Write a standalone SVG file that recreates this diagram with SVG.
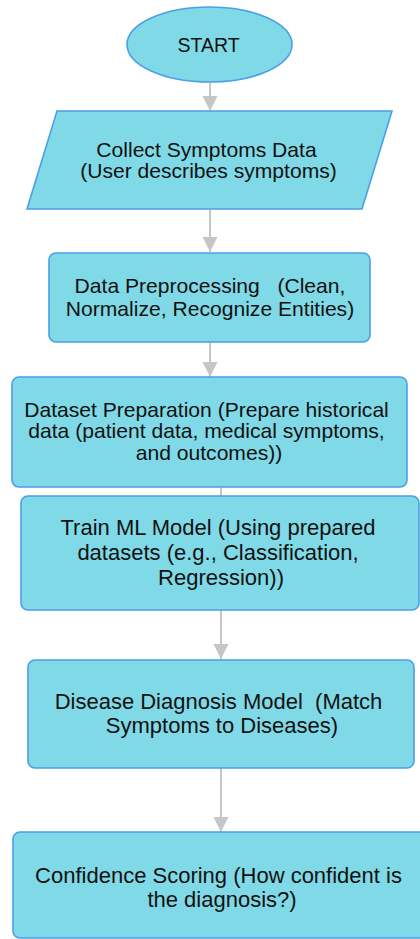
<svg xmlns="http://www.w3.org/2000/svg" width="420" height="939" viewBox="0 0 420 939">
  <defs>
    <style>
      .shape { fill: #80d9e6; stroke: #4a9fe8; stroke-width: 1.6; }
      .label { font-family: "Liberation Sans", Arial, sans-serif; fill: #111; text-anchor: middle; }
      .sm { font-size: 21.1px; }
      .lg { font-size: 22px; }
      .link { stroke: #c6c6c6; stroke-width: 2; fill: none; }
      .head { fill: #c6c6c6; }
    </style>
    <marker id="arrow" markerUnits="userSpaceOnUse" markerWidth="16" markerHeight="16" refX="15" refY="7.5" orient="auto">
      <path class="head" d="M0,0 L15,7.5 L0,15 Z"/>
    </marker>
  </defs>
  <rect width="420" height="939" fill="#ffffff"/>

  <!-- connectors -->
  <g id="connectors">
    <line class="link" x1="210" y1="82" x2="210" y2="111" marker-end="url(#arrow)"/>
    <line class="link" x1="210" y1="209" x2="210" y2="252" marker-end="url(#arrow)"/>
    <line class="link" x1="210" y1="342" x2="210" y2="377" marker-end="url(#arrow)"/>
    <line class="link" x1="221" y1="487" x2="221" y2="497" stroke-width="1.5"/>
    <line class="link" x1="221" y1="610" x2="221" y2="659" marker-end="url(#arrow)"/>
    <line class="link" x1="221" y1="768" x2="221" y2="832" marker-end="url(#arrow)"/>
  </g>

  <g id="start">
    <ellipse class="shape" cx="209.5" cy="44.5" rx="82.5" ry="37.5"/>
    <text class="label" x="208.5" y="52" font-size="19.5">START</text>
  </g>

  <g id="collect">
    <polygon class="shape" points="57,111 392,111 362,209 27,209"/>
    <text class="label sm" x="206.5" y="157">Collect Symptoms Data</text>
    <text class="label sm" x="208.5" y="178">(User describes symptoms)</text>
  </g>

  <g id="preprocess">
    <rect class="shape" x="49" y="253" width="321" height="89" rx="7"/>
    <text class="label sm" x="210" y="293" xml:space="preserve">Data Preprocessing   (Clean,</text>
    <text class="label sm" x="210" y="316">Normalize, Recognize Entities)</text>
  </g>

  <g id="dataset">
    <rect class="shape" x="12" y="377" width="395" height="110" rx="7"/>
    <text class="label sm" x="206.5" y="417">Dataset Preparation (Prepare historical</text>
    <text class="label sm" x="206.5" y="438">data (patient data, medical symptoms,</text>
    <text class="label sm" x="209" y="460">and outcomes))</text>
  </g>

  <g id="train">
    <rect class="shape" x="21" y="496" width="398" height="114" rx="7"/>
    <text class="label lg" x="218" y="535">Train ML Model (Using prepared</text>
    <text class="label lg" x="218" y="560">datasets (e.g., Classification,</text>
    <text class="label lg" x="221" y="585">Regression))</text>
  </g>

  <g id="diagnosis">
    <rect class="shape" x="28" y="660" width="386" height="108" rx="7"/>
    <text class="label lg" x="218.5" y="709" xml:space="preserve">Disease Diagnosis Model  (Match</text>
    <text class="label lg" x="222" y="733">Symptoms to Diseases)</text>
  </g>

  <g id="confidence">
    <rect class="shape" x="13" y="832" width="420" height="106" rx="7"/>
    <text class="label lg" x="218.5" y="883">Confidence Scoring (How confident is</text>
    <text class="label lg" x="222" y="907">the diagnosis?)</text>
  </g>
</svg>
